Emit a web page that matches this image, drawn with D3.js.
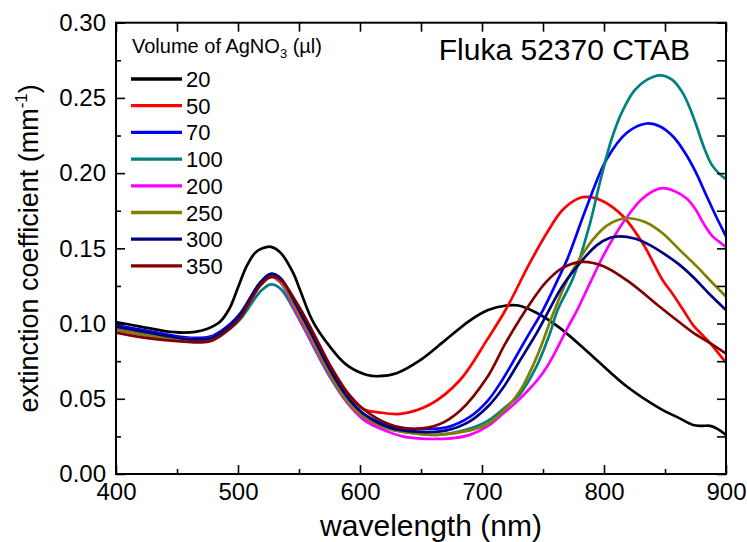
<!DOCTYPE html>
<html>
<head>
<meta charset="utf-8">
<script src="https://cdn.jsdelivr.net/npm/d3@7"></script>
<style>
  body { margin: 0; background: #fff; }
  svg { display: block; }
  text { font-family: "Liberation Sans", Arial, Helvetica, sans-serif; fill: #000; }
</style>
</head>
<body>
<svg id="chart" width="747" height="542"></svg>
<script>
// Extinction spectra of gold nanorod batches, one per AgNO3 volume (µl).
// Each spectrum: [wavelength (nm), extinction coefficient (mm^-1)]
const spec20 = [[400,.101],[420,.098],[440,.095],[455,.094],[465,.0945],[475,.0965],[485,.101],[493,.110],[500,.124],[507,.138],[514,.147],[520,.150],[527,.151],[535,.147],[545,.134],[551,.122],[561,.102],[575,.085],[589,.0725],[605,.066],[615,.065],[630,.067],[650,.076],[670,.089],[690,.102],[705,.109],[720,.112],[730,.112],[745,.107],[764,.097],[791,.078],[819,.058],[846,.0435],[862,.037],[873,.0326],[880,.032],[887,.032],[893,.030],[900,.026]];
const spec50 = [[400,.097],[420,.094],[440,.092],[455,.090],[470,.0895],[478,.0905],[486,.094],[494,.099],[502,.106],[510,.116],[518,.126],[527,.132],[535,.129],[548,.111],[561,.092],[575,.071],[589,.054],[603,.043],[615,.041],[633,.040],[657,.046],[682,.0625],[704,.089],[720,.110],[739,.140],[753,.160],[766,.1755],[780,.1835],[789,.184],[800,.181],[816,.171],[832,.153],[848,.129],[856,.120],[865,.109],[873,.099],[880,.093],[887,.087],[894,.080],[900,.074]];
const spec70 = [[400,.099],[420,.096],[440,.093],[455,.091],[470,.0905],[478,.0915],[486,.095],[494,.100],[502,.107],[510,.117],[518,.127],[527,.133],[535,.130],[548,.111],[561,.091],[575,.069],[589,.051],[603,.040],[624,.032],[640,.030],[655,.030],[671,.031],[690,.038],[705,.049],[717,.063],[737,.091],[750,.109],[762,.129],[770,.143],[786,.178],[802,.209],[819,.227],[835,.233],[846,.231],[857,.224],[866,.214],[875,.201],[884,.185],[892,.171],[900,.158]];
const spec100 = [[400,.096],[420,.093],[440,.090],[455,.089],[470,.0885],[478,.0895],[486,.093],[494,.097],[502,.103],[510,.112],[518,.121],[527,.126],[535,.123],[548,.106],[561,.086],[575,.065],[589,.048],[603,.037],[624,.030],[645,.027],[663,.026],[685,.029],[704,.035],[720,.045],[731,.053],[745,.072],[755,.092],[762,.109],[775,.131],[788,.165],[797,.195],[806,.222],[815,.241],[825,.255],[835,.262],[846,.265],[856,.262],[864,.254],[870,.244],[876,.231],[882,.217],[888,.206],[894,.200],[900,.196]];
const spec200 = [[400,.096],[420,.093],[440,.091],[455,.090],[470,.0895],[478,.0905],[486,.094],[494,.098],[502,.105],[510,.115],[518,.125],[527,.131],[535,.127],[548,.107],[561,.087],[575,.066],[589,.048],[603,.036],[620,.029],[635,.025],[650,.0235],[663,.0233],[678,.024],[690,.026],[705,.032],[717,.040],[731,.050],[745,.062],[753,.071],[760,.081],[770,.097],[778,.109],[788,.126],[800,.146],[810,.160],[819,.171],[830,.182],[840,.188],[848,.190],[858,.188],[868,.183],[875,.176],[882,.166],[889,.158],[895,.154],[900,.151]];
const spec250 = [[400,.096],[420,.093],[440,.091],[455,.090],[470,.0895],[478,.0905],[486,.094],[494,.098],[502,.105],[510,.115],[518,.126],[527,.131],[535,.128],[548,.109],[561,.089],[575,.067],[589,.049],[603,.038],[624,.030],[645,.027],[663,.026],[690,.029],[704,.033],[720,.044],[731,.055],[745,.078],[758,.106],[770,.129],[780,.143],[791,.156],[802,.165],[812,.169],[821,.170],[835,.167],[848,.160],[862,.149],[876,.138],[889,.127],[900,.118]];
const spec300 = [[400,.098],[420,.095],[440,.092],[455,.090],[470,.0895],[478,.0905],[486,.094],[494,.099],[502,.106],[510,.117],[518,.127],[527,.133],[535,.130],[548,.112],[561,.092],[575,.070],[589,.052],[603,.040],[624,.031],[649,.028],[671,.029],[690,.035],[705,.045],[717,.057],[730,.074],[745,.094],[753,.106],[766,.125],[780,.140],[794,.152],[805,.157],[813,.158],[825,.1565],[838,.152],[850,.146],[862,.139],[873,.131],[886,.120],[900,.109]];
const spec350 = [[400,.094],[420,.091],[440,.089],[455,.088],[470,.0875],[478,.0885],[486,.092],[494,.097],[502,.104],[510,.115],[518,.125],[527,.131],[535,.129],[548,.114],[561,.095],[575,.073],[589,.055],[603,.043],[624,.033],[645,.030],[665,.033],[682,.042],[704,.064],[720,.088],[740,.114],[753,.128],[766,.137],[782,.141],[800,.138],[820,.128],[846,.111],[860,.102],[873,.094],[887,.087],[900,.080]];

const volumes = ["20", "50", "70", "100", "200", "250", "300", "350"];
const spectra = [spec20, spec50, spec70, spec100, spec200, spec250, spec300, spec350];
const colors = ["#000000", "#ff0000", "#0000ff", "#008080", "#ff00ff", "#808000", "#000080", "#800000"];

const xMajor = [400, 500, 600, 700, 800, 900];
const xMinor = [450, 550, 650, 750, 850];
const yMajor = [0, 0.05, 0.10, 0.15, 0.20, 0.25, 0.30];
const yMinor = [0.025, 0.075, 0.125, 0.175, 0.225, 0.275];

const svg = d3.select("#chart");
const plotLeft = 116, plotRight = 726, plotTop = 22.7, plotBottom = 474;

const x = d3.scaleLinear().domain([400, 900]).range([plotLeft, plotRight]);
const y = d3.scaleLinear().domain([0, 0.30]).range([plotBottom, plotTop]);

// clip so lines stay inside the frame
svg.append("clipPath").attr("id", "plotclip")
  .append("rect").attr("x", plotLeft).attr("y", plotTop)
  .attr("width", plotRight - plotLeft).attr("height", plotBottom - plotTop);

// spectra
const line = d3.line()
  .x(d => x(d[0]))
  .y(d => y(d[1]))
  .curve(d3.curveCatmullRom.alpha(0.5));

const plot = svg.append("g").attr("clip-path", "url(#plotclip)");
spectra.forEach((s, i) => {
  plot.append("path")
    .datum(s)
    .attr("d", line)
    .attr("fill", "none")
    .attr("stroke", colors[i])
    .attr("stroke-width", 2.7)
    .attr("stroke-linejoin", "round");
});

// axes with inward ticks
function styleAxis(g) {
  g.select(".domain").remove();
  g.selectAll(".tick line").attr("stroke", "#000").attr("stroke-width", 1.6);
  g.selectAll(".tick text").attr("font-size", 24).attr("fill", "#000")
    .style("font-family", '"Liberation Sans", Arial, sans-serif');
}

svg.append("g").attr("transform", `translate(0,${plotBottom})`)
  .call(d3.axisBottom(x).tickValues(xMajor).tickFormat(d3.format("d")).tickSizeInner(-9).tickSizeOuter(0).tickPadding(9))
  .call(styleAxis);
svg.append("g").attr("transform", `translate(0,${plotBottom})`)
  .call(d3.axisBottom(x).tickValues(xMinor).tickFormat("").tickSizeInner(-5).tickSizeOuter(0))
  .call(styleAxis);

svg.append("g").attr("transform", `translate(${plotLeft},0)`)
  .call(d3.axisLeft(y).tickValues(yMajor).tickFormat(d3.format(".2f")).tickSizeInner(-9).tickSizeOuter(0).tickPadding(10))
  .call(styleAxis);
svg.append("g").attr("transform", `translate(${plotLeft},0)`)
  .call(d3.axisLeft(y).tickValues(yMinor).tickFormat("").tickSizeInner(-5).tickSizeOuter(0))
  .call(styleAxis);

svg.append("g").attr("transform", `translate(0,${plotTop})`)
  .call(d3.axisTop(x).tickValues(xMajor.concat(xMinor)).tickFormat("").tickSizeInner(-9).tickSizeOuter(0))
  .call(styleAxis);
svg.append("g").attr("transform", `translate(${plotRight},0)`)
  .call(d3.axisRight(y).tickValues(yMajor.concat(yMinor)).tickFormat("").tickSizeInner(-9).tickSizeOuter(0))
  .call(styleAxis);

// frame
svg.append("rect")
  .attr("x", plotLeft).attr("y", plotTop)
  .attr("width", plotRight - plotLeft).attr("height", plotBottom - plotTop)
  .attr("fill", "none").attr("stroke", "#000").attr("stroke-width", 2);

// axis titles
svg.append("text")
  .attr("x", 431).attr("y", 536)
  .attr("text-anchor", "middle").attr("font-size", 30)
  .text("wavelength (nm)");

const yTitle = svg.append("text")
  .attr("transform", `translate(38,${(plotTop + plotBottom) / 2}) rotate(-90)`)
  .attr("text-anchor", "middle").attr("font-size", 27);
yTitle.append("tspan").text("extinction coefficient (mm");
yTitle.append("tspan").attr("font-size", 17).attr("dy", -11).text("-1");
yTitle.append("tspan").attr("dy", 11).text(")");

// in-plot label
svg.append("text")
  .attr("x", 690).attr("y", 60)
  .attr("text-anchor", "end").attr("font-size", 30)
  .text("Fluka 52370 CTAB");

// legend
const legTitle = svg.append("text").attr("x", 132).attr("y", 53).attr("font-size", 20);
legTitle.append("tspan").text("Volume of AgNO");
legTitle.append("tspan").attr("font-size", 13).attr("dy", 5).text("3");
legTitle.append("tspan").attr("dy", -5).text(" (\u00b5l)");

const legend = svg.append("g");
volumes.forEach((v, i) => {
  const cy = 79 + i * 26.7;
  legend.append("line")
    .attr("x1", 131).attr("x2", 182).attr("y1", cy).attr("y2", cy)
    .attr("stroke", colors[i]).attr("stroke-width", 3.3);
  legend.append("text")
    .attr("x", 186).attr("y", cy + 8).attr("font-size", 22)
    .text(v);
});
</script>
</body>
</html>
